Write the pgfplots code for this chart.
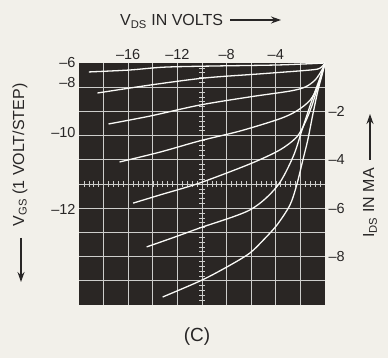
\documentclass[border=0pt]{standalone}
\usepackage{fontspec}
\setmainfont{Liberation Sans}
\usepackage{pgfplots}
\pgfplotsset{compat=1.18}
\usetikzlibrary{arrows.meta}
\definecolor{paper}{RGB}{242,240,234}
\definecolor{scope}{RGB}{42,38,36}
\definecolor{grat}{RGB}{205,205,203}
\definecolor{trace}{RGB}{250,250,247}
\definecolor{ink}{RGB}{40,38,38}
\begin{document}
\begin{tikzpicture}[x=1pt,y=1pt]
\fill[paper] (0,0) rectangle (388,358);
\path[use as bounding box] (0,0) rectangle (388,358);
\begin{axis}[
  at={(79pt,53pt)}, anchor=south west,
  width=246pt, height=242pt, scale only axis,
  xmin=-20, xmax=0, ymin=-10, ymax=0,
  axis background/.style={fill=scope},
  axis line style={draw=none},
  xtick={-18,-16,...,-2},
  xticklabels={,{–16},,{–12},,{–8},,{–4},},
  ytick={-9,-8,...,-1},
  yticklabels={,{–8},,{–6},,{–4},,{–2},},
  xticklabel pos=upper, yticklabel pos=right,
  major tick length=0pt,
  grid=major, grid style={grat, line width=0.8pt},
  tick label style={font=\fontsize{14.5}{14.5}\selectfont, text=ink},
]
\draw[grat, line width=0.9pt] (axis cs:-10,-10) -- (axis cs:-10,0);
\draw[grat, line width=0.9pt] (axis cs:-20,-5) -- (axis cs:0,-5);
\pgfplotsinvokeforeach{-19.6,-19.2,...,-0.3}{
  \draw[grat, line width=0.6pt] ([yshift=-3pt]axis cs:#1,-5) -- ([yshift=3pt]axis cs:#1,-5);
}
\pgfplotsinvokeforeach{-9.8,-9.6,...,-0.15}{
  \draw[grat, line width=0.6pt] ([xshift=-3pt]axis cs:-10,#1) -- ([xshift=3pt]axis cs:-10,#1);
}
\addplot[trace, line width=1.3pt, smooth] coordinates {
 (-19.2,-0.37) (-15.9,-0.29) (-13.0,-0.17) (-8.5,-0.12) (-3.7,-0.08) (0,0)};
\addplot[trace, line width=1.3pt, smooth] coordinates {
 (-18.5,-1.24) (-14.2,-0.91) (-9.8,-0.62) (-5.3,-0.45) (-1.2,-0.29) (-0.4,-0.21) (0,0)};
\addplot[trace, line width=1.3pt, smooth] coordinates {
 (-17.6,-2.52) (-14.2,-2.19) (-10.2,-1.74) (-6.1,-1.40) (-2.85,-1.16) (-1.6,-0.99) (-0.8,-0.70) (-0.25,-0.29) (0,0)};
\addplot[trace, line width=1.3pt, smooth] coordinates {
 (-16.7,-4.09) (-13.4,-3.68) (-10.2,-3.22) (-6.9,-2.81) (-3.7,-2.31) (-2.3,-1.98) (-1.2,-1.53) (-0.55,-0.91) (0,0)};
\addplot[trace, line width=1.3pt, smooth] coordinates {
 (-15.6,-5.79) (-13.4,-5.45) (-10.2,-4.96) (-6.1,-4.17) (-3.7,-3.60) (-2.3,-3.06) (-1.6,-2.44) (-1.05,-1.74) (-0.55,-0.91) (0,0)};
\addplot[trace, line width=1.3pt, smooth] coordinates {
 (-14.5,-7.60) (-12.2,-7.19) (-10.2,-6.82) (-6.1,-6.07) (-3.9,-5.10) (-2.6,-3.88) (-1.87,-2.77) (-1.06,-1.53) (-0.41,-0.62) (0,0)};
\addplot[trace, line width=1.3pt, smooth] coordinates {
 (-13.2,-9.67) (-10.0,-8.97) (-7.7,-8.35) (-6.1,-7.85) (-5.0,-7.31) (-3.9,-6.69) (-2.85,-5.87) (-2.3,-5.04) (-1.8,-4.01) (-1.4,-3.18) (-1.0,-2.15) (-0.57,-1.12) (-0.24,-0.5) (0,0)};
\end{axis}
\begin{axis}[
  at={(79pt,53pt)}, anchor=south west,
  width=246pt, height=242pt, scale only axis,
  xmin=-20, xmax=0, ymin=-10, ymax=0,
  hide x axis, axis y line*=left,
  axis line style={draw=none},
  ytick={-6.07,-2.89,-0.79,0},
  yticklabels={{–12},{–10},{–8},{–6}},
  major tick length=0pt,
  tick label style={font=\fontsize{14.5}{14.5}\selectfont, text=ink},
]
\end{axis}
\node[anchor=base west, text=ink, font=\fontsize{16}{16}\selectfont, inner sep=0pt] at (120,332) {V\textsubscript{DS} IN VOLTS};
\draw[ink, line width=1.4pt, -{Stealth[length=10pt,width=7pt]}] (230,338) -- (281,338);
\node[rotate=90, text=ink, font=\fontsize{16}{16}\selectfont] at (20,203) {V\textsubscript{GS} (1 VOLT/STEP)};
\draw[ink, line width=1.4pt, -{Stealth[length=10pt,width=7pt]}] (21,120) -- (21,76);
\node[rotate=90, text=ink, font=\fontsize{16}{16}\selectfont] at (370,155) {I\textsubscript{DS} IN MA};
\draw[ink, line width=1.4pt, -{Stealth[length=10pt,width=7pt]}] (370,198) -- (370,244);
\node[text=ink, font=\fontsize{19}{19}\selectfont] at (197,21) {(C)};
\end{tikzpicture}
\end{document}
